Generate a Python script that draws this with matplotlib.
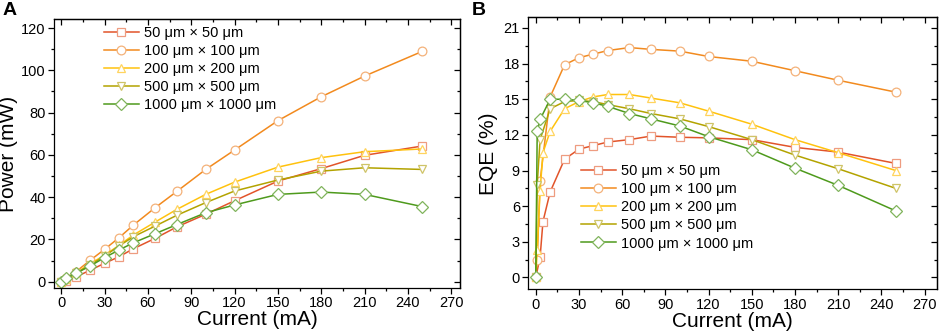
import matplotlib
matplotlib.use("Agg")
import matplotlib.pyplot as plt
from matplotlib.ticker import MultipleLocator

plt.rcParams['font.family'] = ['Liberation Sans', 'DejaVu Sans']

labels = ["50 μm × 50 μm", "100 μm × 100 μm", "200 μm × 200 μm",
          "500 μm × 500 μm", "1000 μm × 1000 μm"]
markers = ["s", "o", "^", "v", "D"]
line_colors = ["#E2542A", "#F28A1E", "#FFC20E", "#B3A300", "#4E9A1C"]
marker_colors = ["#EE9C80", "#F4B27A", "#FFD45E", "#CFC468", "#80B45C"]

# Panel A: output power (mW) vs current (mA)
current_a = [0, 3, 10, 20, 30, 40, 50, 65, 80, 100, 120, 150, 180, 210, 250]
power_50 = [0, 0.5, 2.2, 5.4, 8.7, 11.8, 15.6, 20.5, 25.9, 31.9, 38.3, 47.6, 53.5, 59.8, 64.2]
power_100 = [0, 1.5, 4.6, 10.1, 15.3, 20.8, 26.8, 35.0, 42.7, 53.1, 62.3, 76.2, 87.5, 97.3, 109.0]
power_200 = [0, 1.1, 4.0, 8.5, 12.5, 17.2, 22.1, 28.2, 34.2, 41.3, 47.1, 54.2, 58.7, 61.5, 62.8]
power_500 = [0, 1.0, 3.9, 7.9, 12.1, 16.9, 21.3, 26.3, 31.4, 37.4, 42.9, 48.1, 52.3, 53.9, 53.1]
power_1000 = [0, 1.5, 3.9, 7.4, 11.4, 15.0, 18.4, 22.7, 27.0, 32.6, 36.3, 41.3, 42.4, 41.3, 35.5]

# Panel B: EQE (%) vs current (mA)
current_b_50 = [0, 3, 5, 10, 20, 30, 40, 50, 65, 80, 100, 120, 150, 180, 210, 250]
eqe_50 = [0, 1.7, 4.7, 7.2, 9.95, 10.8, 11.1, 11.4, 11.6, 11.9, 11.8, 11.75, 11.6, 10.95, 10.55, 9.6]
current_b_100 = [0, 1, 3, 10, 20, 30, 40, 50, 65, 80, 100, 120, 150, 180, 210, 250]
eqe_100 = [0, 1.45, 8.1, 15.2, 17.9, 18.5, 18.8, 19.1, 19.35, 19.2, 19.05, 18.6, 18.2, 17.4, 16.6, 15.6]
current_b_200 = [0, 1, 3, 5, 10, 20, 30, 40, 50, 65, 80, 100, 120, 150, 180, 210, 250]
eqe_200 = [0, 2.3, 7.3, 10.5, 12.3, 14.2, 14.8, 15.2, 15.4, 15.4, 15.1, 14.7, 14.0, 12.9, 11.6, 10.5, 9.0]
current_b_500 = [0, 1, 3, 10, 20, 30, 40, 50, 65, 80, 100, 120, 150, 180, 210, 250]
eqe_500 = [0, 7.8, 11.6, 14.2, 14.8, 14.9, 14.8, 14.55, 14.2, 13.8, 13.35, 12.7, 11.6, 10.3, 9.15, 7.5]
current_b_1000 = [0, 1, 3, 10, 20, 30, 40, 50, 65, 80, 100, 120, 150, 180, 210, 250]
eqe_1000 = [0, 12.3, 13.3, 15.0, 15.0, 14.9, 14.7, 14.4, 13.8, 13.35, 12.75, 11.85, 10.75, 9.2, 7.75, 5.6]

series_a = [(current_a, power_50), (current_a, power_100), (current_a, power_200),
            (current_a, power_500), (current_a, power_1000)]
series_b = [(current_b_50, eqe_50), (current_b_100, eqe_100), (current_b_200, eqe_200),
            (current_b_500, eqe_500), (current_b_1000, eqe_1000)]

fig = plt.figure(figsize=(9.41, 3.35), dpi=100)
ax_a = fig.add_axes([0.0574, 0.1403, 0.4314, 0.8030])
ax_b = fig.add_axes([0.5614, 0.1364, 0.4343, 0.8120])


def style(ax, xlim, ylim, ymaj, ymin):
    ax.set_xlim(*xlim)
    ax.set_ylim(*ylim)
    ax.xaxis.set_major_locator(MultipleLocator(30))
    ax.xaxis.set_minor_locator(MultipleLocator(15))
    ax.yaxis.set_major_locator(MultipleLocator(ymaj))
    ax.yaxis.set_minor_locator(MultipleLocator(ymin))
    ax.tick_params(which='both', direction='out', labelsize=10.5, width=0.9)
    ax.tick_params(which='major', length=4, pad=2)
    ax.tick_params(which='minor', length=2.5)
    # mirrored ticks on top/right pointing inward
    sx = ax.secondary_xaxis('top')
    sx.xaxis.set_major_locator(MultipleLocator(30))
    sx.xaxis.set_minor_locator(MultipleLocator(15))
    sx.tick_params(which='both', direction='in', labeltop=False, width=0.9)
    sx.tick_params(which='major', length=4)
    sx.tick_params(which='minor', length=2.5)
    sy = ax.secondary_yaxis('right')
    sy.yaxis.set_major_locator(MultipleLocator(ymaj))
    sy.yaxis.set_minor_locator(MultipleLocator(ymin))
    sy.tick_params(which='both', direction='in', labelright=False, width=0.9)
    sy.tick_params(which='major', length=4)
    sy.tick_params(which='minor', length=2.5)
    for s in ax.spines.values():
        s.set_linewidth(0.9)
    for s in list(sx.spines.values()) + list(sy.spines.values()):
        s.set_linewidth(0.9)
    ax.set_xlabel("Current (mA)", fontsize=15, labelpad=0)


def draw(ax, series):
    for (x, y), lab, m, lc, mc in zip(series, labels, markers, line_colors, marker_colors):
        ms = 6.3 if m != "D" else 6.0
        ax.plot(x, y, color=lc, lw=1.1, marker=m, ms=ms, mfc="white",
                mec=mc, mew=0.9, label=lab)


draw(ax_a, series_a)
style(ax_a, (-5, 276), (-3, 124.3), 20, 10)
ax_a.set_ylabel("Power (mW)", fontsize=15, labelpad=2)
ax_a.legend(loc='upper left', bbox_to_anchor=(0.122, 0.975), frameon=False,
            fontsize=10.5, handlelength=2.45, handletextpad=0.3,
            labelspacing=0.28, borderaxespad=0, borderpad=0)

draw(ax_b, series_b)
style(ax_b, (-5.2, 278.6), (-1.0, 21.9), 3, 1.5)
ax_b.set_ylabel("EQE (%)", fontsize=15, labelpad=4)
ax_b.legend(loc='upper left', bbox_to_anchor=(0.128, 0.46), frameon=False,
            fontsize=10.5, handlelength=2.45, handletextpad=0.3,
            labelspacing=0.28, borderaxespad=0, borderpad=0)

fig.text(0.003, 0.995, "A", fontsize=14, fontweight='bold', va='top', ha='left')
fig.text(0.501, 0.995, "B", fontsize=14, fontweight='bold', va='top', ha='left')

fig.savefig("out.png", dpi=100)
